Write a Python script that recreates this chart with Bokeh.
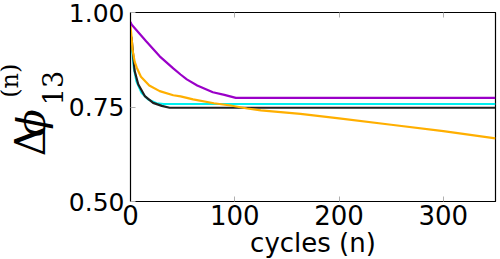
import math
from bokeh.plotting import figure
from bokeh.layouts import row
from bokeh.models import LinearAxis, Range1d, FixedTicker, NumeralTickFormatter
from bokeh.core.properties import value
from bokeh.embed import file_html
from bokeh.resources import INLINE

# ---- data ----
x_ticks = [0, 100, 200, 300]
y_ticks = [0.50, 0.75, 1.00]

cyc_purple = [0, 1, 15, 28, 41, 48, 54, 64, 79, 90, 101, 200, 350]
purple = [0.975, 0.968, 0.924, 0.884, 0.852, 0.836, 0.823, 0.807, 0.789, 0.782, 0.774, 0.774, 0.774]

cyc_orange = [0, 1, 2, 4, 6, 10, 18, 28, 41, 48, 60, 80, 96, 112, 125, 163, 200, 250, 300, 350]
orange = [0.965, 0.935, 0.900, 0.870, 0.854, 0.830, 0.807, 0.792, 0.781, 0.778, 0.770, 0.760,
          0.754, 0.746, 0.741, 0.732, 0.720, 0.703, 0.686, 0.667]

cyc_cyan = [0, 1, 3.2, 5.7, 10.5, 17, 25, 32, 200, 350]
cyan = [0.922, 0.915, 0.854, 0.818, 0.788, 0.770, 0.760, 0.758, 0.758, 0.758]

cyc_black = [0, 1, 4, 7.4, 13.7, 21.7, 30, 37.5, 200, 350]
black = [0.940, 0.933, 0.845, 0.810, 0.779, 0.761, 0.753, 0.748, 0.748, 0.748]

# y-axis title pieces: Δ ϕ _13 ^(n)
ylab_parts = ["Δ", "ϕ", "13", "(n)"]

# ---------------- main plot ----------------
p = figure(frame_width=365, frame_height=189, output_backend="svg", toolbar_location=None,
           x_range=Range1d(0, 350), y_range=Range1d(0.5, 1.0),
           min_border_left=66, min_border_right=5, min_border_top=12, min_border_bottom=40)

p.xgrid.visible = False
p.ygrid.visible = False
p.outline_line_color = "black"
p.outline_line_width = 1.2
p.background_fill_color = "white"
p.border_fill_color = "white"

tick_col = "#b0b0b0"
for ax in (p.xaxis[0], p.yaxis[0]):
    ax.major_tick_in = 5
    ax.major_tick_out = 0
    ax.minor_tick_line_color = None
    ax.major_tick_line_color = tick_col
    ax.axis_line_color = "black"
    ax.major_label_text_font = "DejaVu Sans"
    ax.major_label_text_color = "black"
    ax.major_label_text_line_height = 1.0

p.xaxis.major_label_text_font_size = "26px"
p.yaxis.major_label_text_font_size = "25px"
p.xaxis.ticker = FixedTicker(ticks=x_ticks)
p.yaxis.ticker = FixedTicker(ticks=y_ticks)
p.yaxis.formatter = NumeralTickFormatter(format="0.00")
p.xaxis.formatter = NumeralTickFormatter(format="0")
p.xaxis.major_label_standoff = 3
p.yaxis.major_label_standoff = 6

p.xaxis.axis_label = "cycles (n)"
p.xaxis.axis_label_text_font = "DejaVu Sans"
p.xaxis.axis_label_text_font_size = "26px"
p.xaxis.axis_label_text_font_style = "normal"
p.xaxis.axis_label_text_color = "black"
p.xaxis.axis_label_text_line_height = 1.0
p.xaxis.axis_label_standoff = 0

top = LinearAxis(ticker=FixedTicker(ticks=x_ticks), major_tick_in=5, major_tick_out=0,
                 minor_tick_line_color=None, major_tick_line_color=tick_col,
                 axis_line_color="black", major_label_standoff=0,
                 major_label_overrides={t: "" for t in x_ticks})
p.add_layout(top, "above")

p.line(cyc_cyan, cyan, line_color="#00f0f0", line_width=2.2)
p.line(cyc_black, black, line_color="#202020", line_width=2.2)
p.line(cyc_orange, orange, line_color="#ffaf00", line_width=2.2)
p.line(cyc_purple, purple, line_color="#9a00c8", line_width=2.2)

# ---------------- y-axis title panel (pixel-like coordinates, y up) ----------------
lab = figure(width=64, height=259, output_backend="svg", toolbar_location=None,
             x_range=Range1d(0, 64), y_range=Range1d(0, 259),
             x_axis_location=None, y_axis_location=None,
             min_border=0, outline_line_color=None)
lab.xgrid.visible = False
lab.ygrid.visible = False
lab.border_fill_color = "white"

ang = math.pi / 2
common = dict(angle=ang, text_font=value("DejaVu Serif"), text_color="black",
              text_align="center", text_baseline="middle")
lab.text(x=[30], y=[82], text=[ylab_parts[0]], text_font_size="42px", **common)
lab.text(x=[30], y=[107], text=[ylab_parts[1]], text_font_style="italic",
         text_font_size="40px", **common)
lab.text(x=[52], y=[155], text=[ylab_parts[2]], text_font_size="27px", **common)
lab.text(x=[9], y=[165], text=[ylab_parts[3]], text_font_size="24px", **common)

layout = row(lab, p, spacing=0)
open("out.html", "w").write(file_html(layout, INLINE))
